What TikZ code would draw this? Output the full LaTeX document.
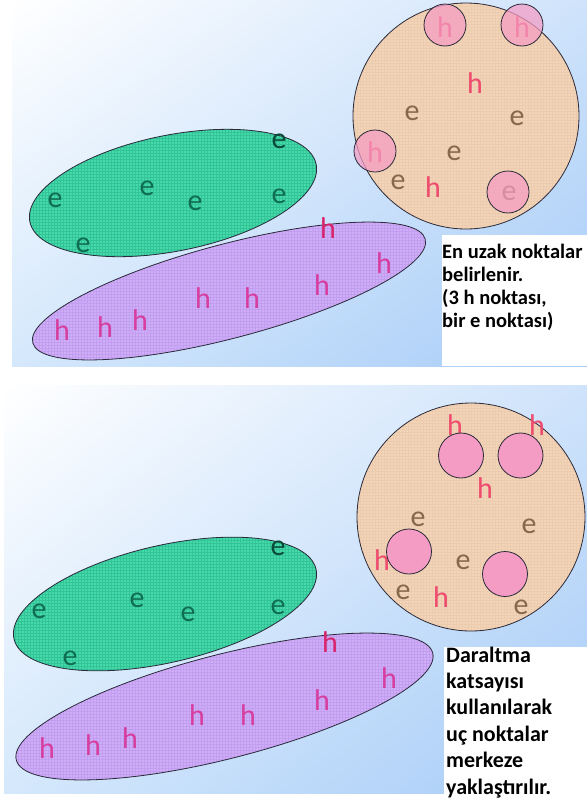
\documentclass[tikz,border=0pt]{standalone}
\usepackage{fontspec}
\setmainfont{Carlito}
\usetikzlibrary{patterns,shadings}

\definecolor{bgtr}{HTML}{CFE3FB}
\definecolor{bgbl}{HTML}{D5E8FC}
\definecolor{bgbr}{HTML}{A5CBF7}
\definecolor{efill}{HTML}{44DAAA}
\definecolor{egrid}{HTML}{34C397}
\definecolor{hfill}{HTML}{D0AEF7}
\definecolor{hgrid}{HTML}{C29EF0}
\definecolor{cfill}{HTML}{F2D5B8}
\definecolor{cgrid}{HTML}{EDCBAE}
\definecolor{pinkpt}{HTML}{F59CC4}
\definecolor{etext}{HTML}{0F6D50}
\definecolor{etop}{HTML}{0A4A38}
\definecolor{htext}{HTML}{D63D9E}
\definecolor{htop}{HTML}{D8246C}
\definecolor{cetext}{HTML}{86684C}
\definecolor{chtext}{HTML}{EE4B6E}
\definecolor{edgeline}{HTML}{2A2A3A}

\begin{document}
\begin{tikzpicture}[
  x=1pt, y=-1pt,
  every node/.style={inner sep=0pt, font=\fontsize{30}{30}\selectfont},
  panelbg/.style={upper left=white, upper right=bgtr, lower left=bgbl, lower right=bgbr},
  clusterE/.style={preaction={fill=efill}, pattern=grid, pattern color=egrid, draw=edgeline, line width=0.8pt},
  clusterH/.style={preaction={fill=hfill}, pattern=grid, pattern color=hgrid, draw=edgeline, line width=0.8pt},
  bigdisc/.style={preaction={fill=cfill}, pattern=grid, pattern color=cgrid, draw=edgeline, line width=0.8pt},
  farpt/.style={fill=pinkpt, fill opacity=0.72, draw=edgeline, line width=0.8pt},
  shrunkpt/.style={fill=pinkpt, draw=edgeline, line width=0.8pt},
  elbl/.style={text=etext}, hlbl/.style={text=htext},
  celbl/.style={text=cetext}, chlbl/.style={text=chtext},
  note/.style={anchor=north west, align=left, font=\fontsize{20.5}{23}\selectfont\bfseries},
]
\useasboundingbox (0,0) rectangle (587,807);

% ---- upper panel: farthest points
\shade[panelbg] (12,0) rectangle (587,366);
\fill[white] (442,235) rectangle (587,366);

\path[clusterE, rotate around={11.3:(173,193)}] (173,193) ellipse[x radius=146pt, y radius=58pt];
\path[clusterH, rotate around={14.8:(229,291)}] (229,291) ellipse[x radius=203pt, y radius=47pt];
\path[bigdisc] (466,116) circle[radius=113pt];

\node[elbl, text=etop] (ea0) at (279,141) {e};
\foreach \x/\y [count=\i] in {55/200, 147/188, 195/203, 279/196, 83/245}
  \node[elbl] (ea\i) at (\x,\y) {e};
\node[hlbl, text=htop] (ha0) at (328,228) {h};
\foreach \x/\y [count=\i] in {384/263, 322/285, 203/298, 252/298, 140/320, 105/327, 62/330}
  \node[hlbl] (ha\i) at (\x,\y) {h};
\foreach \x/\y [count=\i] in {475/83, 433/187, 445/27, 522/27, 375/152}
  \node[chlbl] (cha\i) at (\x,\y) {h};
\foreach \x/\y [count=\i] in {412/113, 517/118, 454/153, 398/182, 509/193}
  \node[celbl] (cea\i) at (\x,\y) {e};

% far points, see-through
\foreach \x/\y [count=\i] in {445/25, 522/25, 375/151, 508/192}
  \path[farpt] (\x,\y) circle[radius=21pt];

\node[note] (note1) at (442,243.5)
  {En uzak noktalar\\belirlenir.\\(3 h noktası,\\bir e noktası)};

% ---- lower panel: points pulled to the centre
\shade[panelbg] (4,385) rectangle (587,793);
\fill[white] (444,647) rectangle (587,807);

\path[clusterE, rotate around={13:(165,604)}] (165,604) ellipse[x radius=155pt, y radius=58.5pt];
\path[clusterH, rotate around={14.4:(224.5,706.5)}] (224.5,706.5) ellipse[x radius=215pt, y radius=52pt];
\path[bigdisc] (471,517) circle[radius=114pt];

\node[elbl, text=etop] (eb0) at (278,548) {e};
\foreach \x/\y [count=\i] in {39/611, 137/600, 188/614, 278/607, 70/658}
  \node[elbl] (eb\i) at (\x,\y) {e};
\node[hlbl, text=htop] (hb0) at (330,642) {h};
\foreach \x/\y [count=\i] in {389/678, 322/700, 197/715, 248/715, 130/738, 93/745, 47/748}
  \node[hlbl] (hb\i) at (\x,\y) {h};
\foreach \x/\y [count=\i] in {455/425, 537/425, 485/488, 382/560, 441/597}
  \node[chlbl] (chb\i) at (\x,\y) {h};
\foreach \x/\y [count=\i] in {418/519, 529/526, 463/562, 403/592, 521/607}
  \node[celbl] (ceb\i) at (\x,\y) {e};

\foreach \x/\y [count=\i] in {461/455.5, 520.5/455.5, 409/551.5, 505/574}
  \path[shrunkpt] (\x,\y) circle[radius=22.5pt];

\node[note, font=\fontsize{22}{26.4}\selectfont\bfseries] (note2) at (446,646.5)
  {Daraltma\\katsayısı\\kullanılarak\\uç noktalar\\merkeze\\yaklaştırılır.};
\end{tikzpicture}
\end{document}
